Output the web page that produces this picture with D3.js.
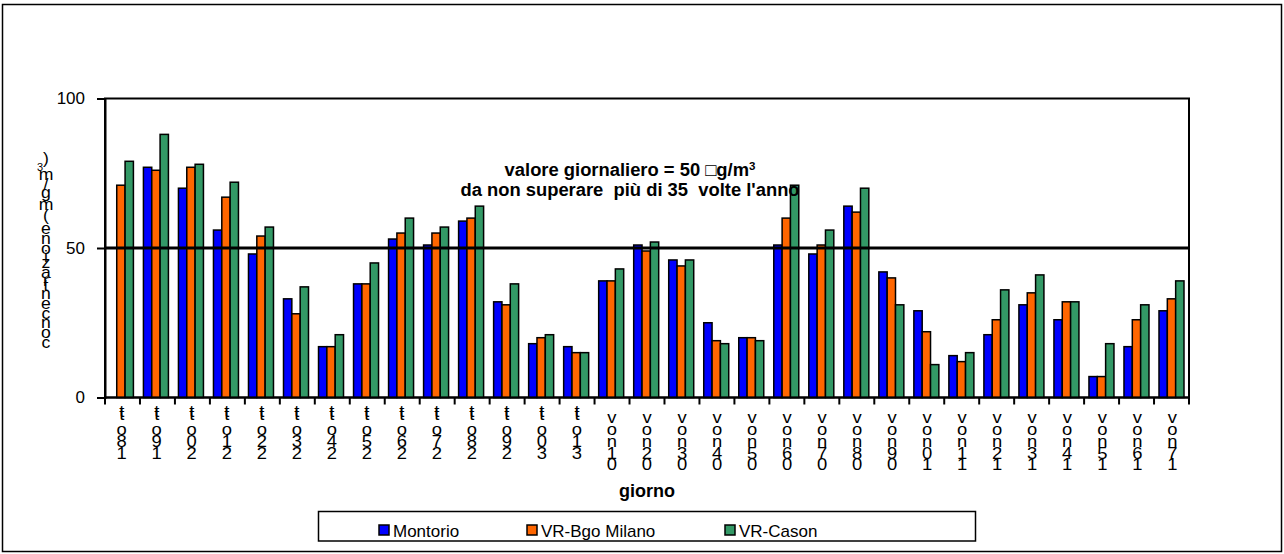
<!DOCTYPE html>
<html>
<head>
<meta charset="utf-8">
<script src="https://cdn.jsdelivr.net/npm/d3@7"></script>
<style>
  body { margin: 0; background: #fff; }
  svg { display: block; }
  text { font-family: Arial, "Liberation Sans", sans-serif; fill: #000; }
</style>
</head>
<body>
<svg id="chart" width="1284" height="554"></svg>
<script>
// Daily PM10 concentrations (µg/m³), 18 October – 17 November
const categories = [
  "18 ott","19 ott","20 ott","21 ott","22 ott","23 ott","24 ott","25 ott","26 ott","27 ott",
  "28 ott","29 ott","30 ott","31 ott",
  "01 nov","02 nov","03 nov","04 nov","05 nov","06 nov","07 nov","08 nov","09 nov","10 nov",
  "11 nov","12 nov","13 nov","14 nov","15 nov","16 nov","17 nov"
];
const seriesNames = ["Montorio", "VR-Bgo Milano", "VR-Cason"];
const montorio  = [null,77,70,56,48,33,17,38,53,51,59,32,18,17,39,51,46,25,20,51,48,64,42,29,14,21,31,26,7,17,29];
const bgoMilano = [71,76,77,67,54,28,17,38,55,55,60,31,20,15,39,49,44,19,20,60,51,62,40,22,12,26,35,32,7,26,33];
const cason     = [79,88,78,72,57,37,21,45,60,57,64,38,21,15,43,52,46,18,19,71,56,70,31,11,15,36,41,32,18,31,39];
const seriesColors = ["#0000ff", "#ff6600", "#339966"];
const yTicks = [0, 50, 100];
const limitValue = 50;
const limitNote = ["valore giornaliero = 50 \u25A1g/m", "da non superare\u00A0 più di 35\u00A0 volte l'anno"];
const xTitle = "giorno";
const yTitle = "concentrazione (mg/m3)";

const seriesValues = [montorio, bgoMilano, cason];
const rows = categories.map((c, i) => ({
  cat: c,
  vals: seriesNames.map((s, j) => ({ series: s, color: seriesColors[j], v: seriesValues[j][i] }))
}));

const svg = d3.select("#chart");
const W = 1284, H = 554;
const plot = { left: 105, right: 1189, top: 98.5, bottom: 397.5 };
const stretch = (cx, sx) => `translate(${cx},0) scale(${sx},1) translate(${-cx},0)`;

// outer chart border
svg.append("rect")
  .attr("x", 2.5).attr("y", 4.5).attr("width", W - 5).attr("height", H - 7)
  .attr("fill", "none").attr("stroke", "#000").attr("stroke-width", 1.5);

const x0 = d3.scaleBand().domain(categories)
  .range([plot.left, plot.right]).paddingInner(0.286).paddingOuter(0.12);
const x1 = d3.scaleBand().domain(seriesNames).range([0, x0.bandwidth()]);
const y = d3.scaleLinear().domain([0, 100]).range([plot.bottom, plot.top]);

// plot frame
svg.append("rect")
  .attr("x", plot.left).attr("y", plot.top)
  .attr("width", plot.right - plot.left).attr("height", plot.bottom - plot.top)
  .attr("fill", "none").attr("stroke", "#000").attr("stroke-width", 2);

// bars
const groups = svg.append("g").selectAll("g").data(rows).join("g")
  .attr("transform", d => `translate(${x0(d.cat) - 0.8},0)`);
groups.selectAll("rect").data(d => d.vals.filter(v => v.v != null)).join("rect")
  .attr("x", d => x1(d.series))
  .attr("y", d => y(d.v))
  .attr("width", x1.bandwidth())
  .attr("height", d => y(0) - y(d.v))
  .attr("fill", d => d.color)
  .attr("stroke", "#000").attr("stroke-width", 1.5);

// limit line at 50
svg.append("line")
  .attr("x1", plot.left).attr("x2", plot.right)
  .attr("y1", y(limitValue)).attr("y2", y(limitValue))
  .attr("stroke", "#000").attr("stroke-width", 3);

// y axis
const yAxis = svg.append("g").attr("transform", `translate(${plot.left},0)`)
  .call(d3.axisLeft(y).tickValues(yTicks).tickSize(8).tickPadding(12));
yAxis.select(".domain").attr("stroke-width", 2);
yAxis.selectAll(".tick line").attr("stroke-width", 2);
yAxis.selectAll(".tick text").attr("font-size", 17).attr("font-family", "Arial, 'Liberation Sans', sans-serif");

// x axis with ticks on category boundaries
const step = (plot.right - plot.left) / categories.length;
const bounds = d3.range(categories.length + 1).map(i => plot.left + i * step);
svg.append("line")
  .attr("x1", plot.left).attr("x2", plot.right)
  .attr("y1", plot.bottom).attr("y2", plot.bottom)
  .attr("stroke", "#000").attr("stroke-width", 2);
svg.append("g").selectAll("line").data(bounds).join("line")
  .attr("x1", d => d).attr("x2", d => d)
  .attr("y1", plot.bottom).attr("y2", plot.bottom + 7)
  .attr("stroke", "#000").attr("stroke-width", 2);

// category labels: upright characters stacked downward from the axis
const labelG = svg.append("g").attr("font-size", 16);
rows.forEach(r => {
  const [day, mon] = r.cat.split(" ");
  const chars = Array.from(mon).reverse().concat(Array.from(day).reverse());
  const cx = x0(r.cat) + x0.bandwidth() / 2;
  let slot = 0;
  chars.forEach((ch, i) => {
    let base = 423.5 + slot * 11.7;
    if (ch === "t" && chars[i + 1] === "t") { base -= 6; }
    else if (ch === "t" && chars[i - 1] === "t") { base -= 3.5; }
    labelG.append("text").attr("x", cx).attr("y", base)
      .attr("text-anchor", "middle")
      .attr("transform", stretch(cx, 1.15))
      .text(ch);
    if (!(ch === "t" && chars[i + 1] === "t")) slot++;
  });
});

// x axis title
svg.append("text")
  .attr("x", (plot.left + plot.right) / 2).attr("y", 497)
  .attr("text-anchor", "middle").attr("font-size", 18).attr("font-weight", "bold")
  .text(xTitle);

// y axis title: upright glyphs stacked bottom-to-top
const ych = Array.from(yTitle);
const probe = svg.append("text").attr("font-size", 16);
const widths = ych.map(ch => {
  probe.text(ch === " " ? "\u00A0" : ch);
  return probe.node().getComputedTextLength() * (ch === "3" ? 0.6 : 1);
});
probe.remove();
const span = [347, 155];
const kx = (span[0] - span[1]) / d3.sum(widths);
const yTitleG = svg.append("g").attr("text-anchor", "middle");
let cur = span[0];
ych.forEach((ch, i) => {
  const a = widths[i] * kx;
  const cy = cur - a / 2;
  cur -= a;
  if (ch === " ") return;
  const sup = ch === "3";
  const px = sup ? 40 : 46;
  yTitleG.append("text")
    .attr("x", px).attr("y", cy + (sup ? 7 : 5.5))
    .attr("font-size", sup ? 10 : 16)
    .attr("transform", stretch(px, 1.1))
    .text(ch);
});

// limit annotation
const noteG = svg.append("g").attr("font-size", 17.5).attr("font-weight", "bold")
  .attr("text-anchor", "middle").attr("transform", stretch(630, 1.05));
limitNote.forEach((t, i) => {
  const txt = noteG.append("text").attr("x", 630).attr("y", 176.5 + i * 19.5);
  txt.append("tspan").text(t);
  if (i === 0) txt.append("tspan").attr("font-size", 11).attr("dy", -6.5).text("3");
});

// legend
const legend = svg.append("g");
legend.append("rect")
  .attr("x", 318.5).attr("y", 511.5).attr("width", 657).attr("height", 29.5)
  .attr("fill", "#fff").attr("stroke", "#000").attr("stroke-width", 1.5);
const legendX = [379, 527, 725];
seriesNames.forEach((s, i) => {
  legend.append("rect")
    .attr("x", legendX[i]).attr("y", 525).attr("width", 10).attr("height", 10)
    .attr("fill", seriesColors[i]).attr("stroke", "#000").attr("stroke-width", 1.5);
  legend.append("text")
    .attr("x", legendX[i] + 14).attr("y", 536.5)
    .attr("font-size", 17).text(s);
});
</script>
</body>
</html>
